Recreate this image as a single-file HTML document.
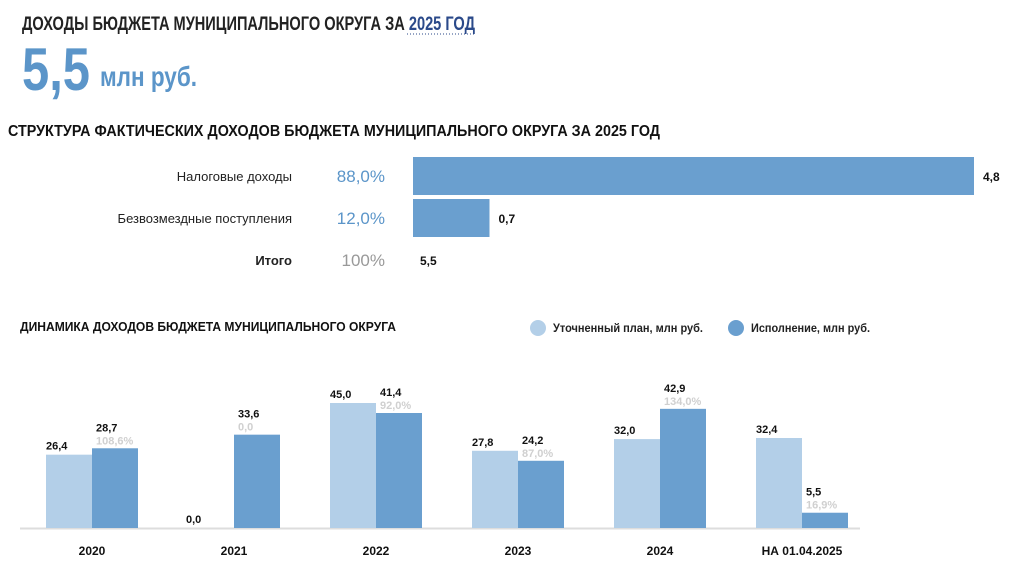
<!DOCTYPE html>
<html><head><meta charset="utf-8">
<style>
html,body{margin:0;padding:0;background:#fff;width:1024px;height:574px;overflow:hidden}
svg{display:block}
text{font-family:"Liberation Sans","DejaVu Sans Condensed",sans-serif}
</style></head>
<body>
<svg id="s" width="1024" height="574" xmlns="http://www.w3.org/2000/svg">
<text x="22" y="30" font-size="19" font-weight="bold" fill="#222" textLength="453" lengthAdjust="spacingAndGlyphs">ДОХОДЫ БЮДЖЕТА МУНИЦИПАЛЬНОГО ОКРУГА ЗА <tspan fill="#2b4a8a">2025 ГОД</tspan></text>
<line x1="407" y1="34" x2="475" y2="34" stroke="#2b4a8a" stroke-width="1" stroke-dasharray="1,2"/>
<text x="22" y="90" font-size="60" font-weight="bold" fill="#5b95c9" textLength="68" lengthAdjust="spacingAndGlyphs">5,5</text>
<text x="100" y="86" font-size="28" font-weight="bold" fill="#5b95c9" textLength="97" lengthAdjust="spacingAndGlyphs">млн руб.</text>
<text x="8" y="136" font-size="16" font-weight="bold" fill="#111" textLength="652" lengthAdjust="spacingAndGlyphs">СТРУКТУРА ФАКТИЧЕСКИХ ДОХОДОВ БЮДЖЕТА МУНИЦИПАЛЬНОГО ОКРУГА ЗА 2025 ГОД</text>
<g id="hbars"></g>
<text x="20" y="331" font-size="13" font-weight="bold" fill="#111" textLength="376" lengthAdjust="spacingAndGlyphs">ДИНАМИКА ДОХОДОВ БЮДЖЕТА МУНИЦИПАЛЬНОГО ОКРУГА</text>
<g>
<circle cx="538" cy="328" r="8" fill="#b3cfe8"/>
<text x="553" y="332" font-size="12" font-weight="bold" fill="#222" textLength="150" lengthAdjust="spacingAndGlyphs">Уточненный план, млн руб.</text>
<circle cx="736" cy="328" r="8" fill="#6a9fcf"/>
<text x="751" y="332" font-size="12" font-weight="bold" fill="#222" textLength="119" lengthAdjust="spacingAndGlyphs">Исполнение, млн руб.</text>
</g>
<line x1="20" y1="528.5" x2="860" y2="528.5" stroke="#ddd" stroke-width="2"/>
<g id="vbars"></g>
</svg>
<script>
const hCats=["Налоговые доходы","Безвозмездные поступления","Итого"];
const hPct=[88.0,12.0,100];
const hVals=[4.8,0.7,5.5];
const hPctLabels=["88,0%","12,0%","100%"];
const hValLabels=["4,8","0,7","5,5"];

const years=["2020","2021","2022","2023","2024","НА 01.04.2025"];
const plan=[26.4,0.0,45.0,27.8,32.0,32.4];
const actual=[28.7,33.6,41.4,24.2,42.9,5.5];
const planLabels=["26,4","0,0","45,0","27,8","32,0","32,4"];
const actualLabels=["28,7","33,6","41,4","24,2","42,9","5,5"];
const pctLabels=["108,6%","0,0","92,0%","87,0%","134,0%","16,9%"];

const NS="http://www.w3.org/2000/svg";
function mk(tag,attrs,parent,txt){const e=document.createElementNS(NS,tag);for(const k in attrs)e.setAttribute(k,attrs[k]);if(txt!==undefined)e.textContent=txt;parent.appendChild(e);return e;}

const hg=document.getElementById('hbars');
const hx0=413, hScale=561/88;
for(let i=0;i<hCats.length;i++){
  const cy=176+i*42;
  const isTotal=i===2;
  const l=mk('text',{x:292,y:cy+5,'font-size':13,'text-anchor':'end',fill:'#222','font-weight':isTotal?'bold':'normal'},hg,hCats[i]);
  
  
  const p=mk('text',{x:385,y:cy+6,'font-size':17,'text-anchor':'end',fill:isTotal?'#999':'#5b95c9'},hg,hPctLabels[i]);
  
  
  let vx=420;
  if(!isTotal){
    const w=hPct[i]*hScale;
    const r=mk('rect',{x:hx0,y:cy-19,width:w,height:38,fill:'#6a9fcf'},hg);
    
    
    vx=hx0+w+9;
  }
  const v=mk('text',{x:vx,y:cy+5,'font-size':12,'font-weight':'bold',fill:'#111'},hg,hValLabels[i]);
  
  
}

const vg=document.getElementById('vbars');
const base=528, vScale=125/45, bw=46;
function yOf(v){return base-v*vScale;}
for(let i=0;i<years.length;i++){
  const gx=46+i*142;
  if(plan[i]>0){
    const r=mk('rect',{x:gx,y:yOf(plan[i]),width:bw,height:plan[i]*vScale,fill:'#b3cfe8'},vg);
    
    
  }
  const pl=mk('text',{x:gx+(i===1?-2:0),y:yOf(plan[i])-5,'font-size':11,'font-weight':'bold',fill:'#111'},vg,planLabels[i]);
  
  
  const ax=gx+bw;
  const r2=mk('rect',{x:ax,y:yOf(actual[i]),width:bw,height:actual[i]*vScale,fill:'#6a9fcf'},vg);
  
  
  const al=mk('text',{x:ax+4,y:yOf(actual[i])-17,'font-size':11,'font-weight':'bold',fill:'#111'},vg,actualLabels[i]);
  
  
  const pc=mk('text',{x:ax+4,y:yOf(actual[i])-4,'font-size':11,'font-weight':'bold',fill:'#d0d0d0'},vg,pctLabels[i]);
  
  
  const yl=mk('text',{x:gx+bw,y:555,'font-size':12,'font-weight':'bold','text-anchor':'middle',fill:'#111'},vg,years[i]);
  
  
}
</script>
</body></html>
